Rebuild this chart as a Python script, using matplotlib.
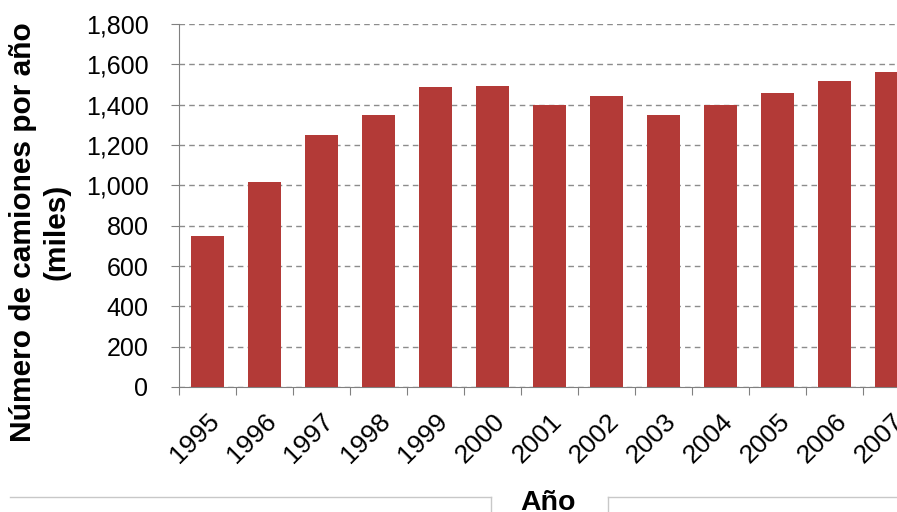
import numpy as np
import matplotlib.pyplot as plt
from matplotlib.lines import Line2D

plt.rcParams['font.family'] = ['Liberation Sans', 'DejaVu Sans']

years = ['1995', '1996', '1997', '1998', '1999', '2000', '2001',
         '2002', '2003', '2004', '2005', '2006', '2007']
trucks = [748, 1018, 1250, 1350, 1488, 1493, 1400,
          1445, 1350, 1397, 1457, 1518, 1562]

W, H = 897, 512
fig = plt.figure(figsize=(W / 100, H / 100), dpi=100)
ax = fig.add_axes([179 / W, 1 - 387 / H, (W - 179) / W, (387 - 24) / H])

x = np.arange(len(years))
ax.bar(x, trucks, width=0.58, color='#B33A37', zorder=3)

ax.set_ylim(0, 1800)
ax.set_xlim(-0.5, 12.1)
ax.set_yticks(np.arange(0, 1801, 200))
ax.set_yticklabels([f'{v:,}' for v in range(0, 1801, 200)], fontsize=18)
ax.yaxis.grid(True, linestyle=(0, (4, 3)), color='#8c8c8c', linewidth=1, zorder=0)

# category ticks sit between bars, labels at bar centres
ax.set_xticks(np.arange(-0.5, 12.5, 1))
ax.set_xticklabels([])
ax.set_xticks(x, minor=True)
ax.set_xticklabels(years, minor=True, rotation=45, ha='right',
                   rotation_mode='anchor', fontsize=19)
ax.tick_params(axis='x', which='minor', length=0, pad=16)
ax.tick_params(axis='x', which='major', length=6, color='#808080', direction='out')
ax.tick_params(axis='y', length=6, color='#808080', pad=16)

for side in ('top', 'right'):
    ax.spines[side].set_visible(False)
for side in ('left', 'bottom'):
    ax.spines[side].set_color('#808080')

fig.text(23 / W, 1 - 232 / H, 'Número de camiones por año', rotation=90,
         ha='center', va='center', fontsize=21.5, fontweight='bold')
fig.text(57 / W, 1 - 232 / H, '(miles)', rotation=90,
         ha='center', va='center', fontsize=21.5, fontweight='bold')
fig.text(548 / W, 1 - 503 / H, 'Año', ha='center', va='center',
         fontsize=20.5, fontweight='bold')

# thin frame pieces along the bottom edge
c = '#c8c8c8'
fig.add_artist(Line2D([10 / W, 491 / W], [1 - 497 / H, 1 - 497 / H], color=c, lw=1))
fig.add_artist(Line2D([491 / W, 491 / W], [1 - 497 / H, 0], color=c, lw=1))
fig.add_artist(Line2D([608 / W, 1], [1 - 497 / H, 1 - 497 / H], color=c, lw=1))
fig.add_artist(Line2D([608 / W, 608 / W], [1 - 497 / H, 0], color=c, lw=1))

fig.savefig('out.png', dpi=100)
